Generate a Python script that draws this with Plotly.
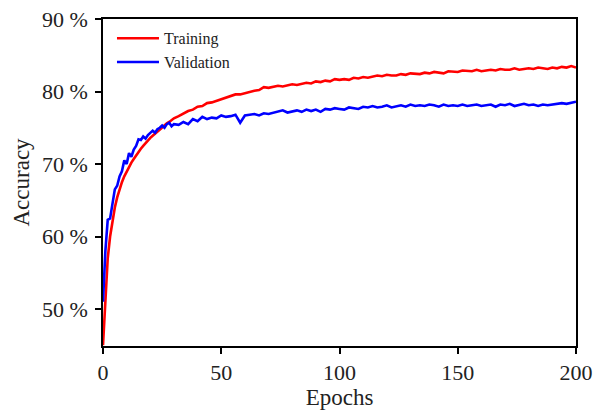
import plotly.graph_objects as go

# ---- data ----
epochs = list(range(0, 31)) + list(range(32, 201, 2))

training = [
    45.0, 52.0, 57.0, 60.0, 62.3, 64.0, 65.4, 66.6, 67.5, 68.3,
    69.0, 69.6, 70.2, 70.7, 71.2, 71.7, 72.1, 72.5, 72.9, 73.3,
    73.6, 73.9, 74.2, 74.5, 74.8, 75.1, 75.3, 75.6, 75.8, 76.1,
    76.3,
    76.6, 77.0, 77.3, 77.5, 77.9, 78.0, 78.4, 78.5, 78.7, 78.9,
    79.1, 79.3, 79.6, 79.6, 79.8, 80.0, 80.1, 80.2, 80.6, 80.5,
    80.6, 80.8, 80.7, 80.9, 81.0, 80.9, 81.1, 81.2, 81.1, 81.4,
    81.3, 81.5, 81.4, 81.7, 81.6, 81.7, 81.6, 81.9, 81.8, 82.0,
    81.9, 82.1, 82.2, 82.1, 82.3, 82.2, 82.2, 82.4, 82.3, 82.5,
    82.4, 82.4, 82.6, 82.5, 82.7, 82.6, 82.5, 82.8, 82.7, 82.7,
    82.9, 82.8, 82.8, 83.0, 82.8, 82.9, 83.0, 82.9, 83.1, 83.0,
    83.0, 83.2, 83.0, 83.1, 83.2, 83.1, 83.3, 83.2, 83.1, 83.3,
    83.2, 83.4, 83.3, 83.5, 83.3,
]

validation = [
    51.0, 58.0, 62.3, 62.5, 64.5, 66.5, 67.0, 68.3, 69.0, 70.5,
    70.0, 71.5, 71.0, 72.0, 72.5, 73.4, 73.3, 73.8, 73.5, 74.0,
    74.3, 74.6, 74.3, 74.8, 75.0, 75.3, 75.0, 75.5, 75.7, 75.2,
    75.5,
    75.4, 75.8, 75.5, 76.2, 75.9, 76.5, 76.2, 76.4, 76.3, 76.7,
    76.5, 76.6, 76.8, 75.7, 76.7, 76.8, 76.9, 76.7, 77.0, 76.9,
    77.1, 77.2, 77.4, 77.1, 77.3, 77.4, 77.2, 77.5, 77.3, 77.5,
    77.2, 77.6, 77.5, 77.7, 77.6, 77.5, 77.8, 77.7, 77.6, 77.9,
    77.8, 78.0, 77.8, 77.9, 78.1, 77.8, 78.0, 78.1, 77.9, 78.2,
    78.0, 78.1, 78.0, 78.2, 78.1, 77.9, 78.2, 78.0, 78.1, 78.0,
    78.2, 78.0, 78.1, 78.2, 78.0, 78.1, 78.2, 77.9, 78.2, 78.1,
    78.3, 78.0, 78.2, 78.3, 78.1, 78.2, 78.0, 78.2, 78.1, 78.2,
    78.3, 78.4, 78.3, 78.5, 78.6,
]

x_ticks = [0, 50, 100, 150, 200]
y_ticks = [50, 60, 70, 80, 90]
y_tick_labels = ["50 %", "60 %", "70 %", "80 %", "90 %"]

FONT = "Liberation Serif"

fig = go.Figure()
fig.add_trace(go.Scatter(x=epochs, y=training, mode="lines", name="Training",
                         line=dict(color="#ff0000", width=2.6)))
fig.add_trace(go.Scatter(x=epochs, y=validation, mode="lines", name="Validation",
                         line=dict(color="#0000ff", width=2.6)))

axis_common = dict(
    showline=True, linecolor="black", linewidth=1.6, mirror=True,
    ticks="outside", ticklen=6, tickwidth=1.5, tickcolor="black",
    showgrid=False, zeroline=False, automargin=False,
    tickfont=dict(family=FONT, size=22, color="#222"),
)

fig.update_layout(
    width=595, height=410,
    margin=dict(l=103, r=19, t=19, b=64),
    paper_bgcolor="white", plot_bgcolor="white",
    font=dict(family=FONT, color="#222"),
    xaxis=dict(range=[0, 200], tickvals=x_ticks,
               title=dict(text="Epochs", font=dict(family=FONT, size=23)),
               **axis_common),
    yaxis=dict(range=[44.9, 90], tickvals=y_ticks, ticktext=y_tick_labels,
               ticklabelstandoff=3,
               **axis_common),
    legend=dict(x=0.019, y=0.993, xanchor="left", yanchor="top",
                bgcolor="rgba(0,0,0,0)", borderwidth=0, itemwidth=42,
                font=dict(family=FONT, size=16, color="#222"),
                tracegroupgap=0),
    showlegend=True,
    annotations=[dict(text="Accuracy", xref="paper", yref="paper",
                      x=0, y=0.5, xanchor="center", yanchor="middle",
                      xshift=-82, textangle=-90, showarrow=False,
                      font=dict(family=FONT, size=23, color="#222"))],
)

fig.write_html("out.html")
